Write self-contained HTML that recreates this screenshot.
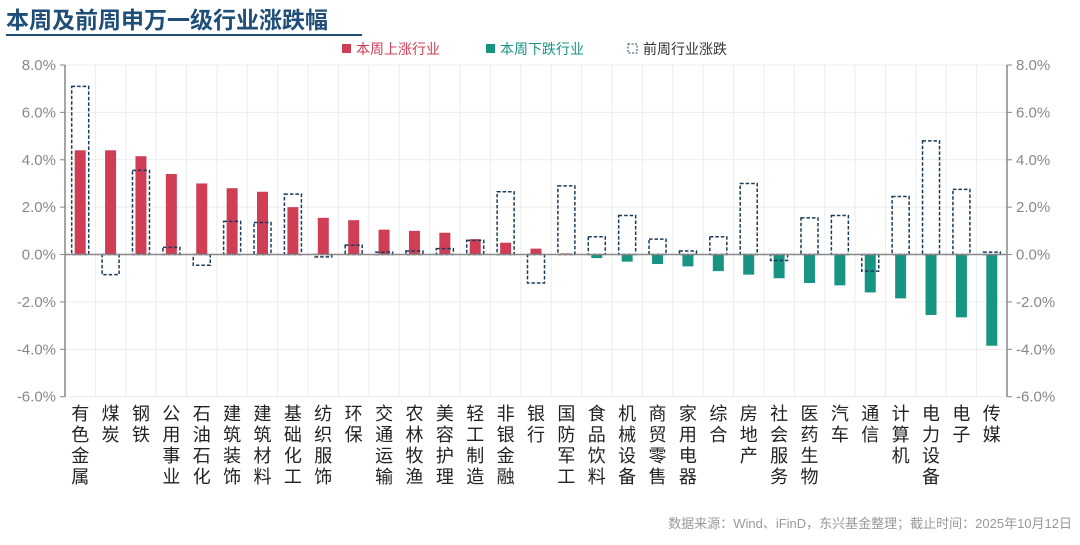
<!DOCTYPE html><html><head><meta charset="utf-8"><style>
body{margin:0;background:#fff;width:1080px;height:540px;overflow:hidden;font-family:"Liberation Sans","Noto Sans CJK SC",sans-serif}
</style></head><body>
<svg id="s" width="1080" height="540" xmlns="http://www.w3.org/2000/svg" font-family="Liberation Sans, Noto Sans CJK SC, sans-serif"></svg>
<script>
const cats=["有色金属","煤炭","钢铁","公用事业","石油石化","建筑装饰","建筑材料","基础化工","纺织服饰","环保","交通运输","农林牧渔","美容护理","轻工制造","非银金融","银行","国防军工","食品饮料","机械设备","商贸零售","家用电器","综合","房地产","社会服务","医药生物","汽车","通信","计算机","电力设备","电子","传媒"];
const cur=[4.4,4.4,4.15,3.4,3.0,2.8,2.65,2.0,1.55,1.45,1.05,1.0,0.92,0.65,0.5,0.25,0.05,-0.15,-0.3,-0.4,-0.5,-0.7,-0.85,-1.0,-1.2,-1.3,-1.6,-1.85,-2.55,-2.65,-3.85];
const prev=[7.1,-0.85,3.55,0.3,-0.45,1.4,1.35,2.55,-0.1,0.4,0.1,0.15,0.25,0.6,2.65,-1.2,2.9,0.75,1.65,0.65,0.15,0.75,3.0,-0.25,1.55,1.65,-0.7,2.45,4.8,2.75,0.1];
const L=65,R=1007,T=65,B=396.7,per=(B-T)/14;
const y=v=>T+(8-v)*per, w=(R-L)/31;
let h='<text x="6" y="28" font-size="23" font-weight="bold" fill="#1f4e79">本周及前周申万一级行业涨跌幅</text><line x1="6" y1="35" x2="362" y2="35" stroke="#1f4e79" stroke-width="2"/>';
h+='<rect x="342" y="44" width="9" height="9" fill="#cf3e55"/><text x="356" y="54" font-size="14" fill="#cf3e55">本周上涨行业</text>';
h+='<rect x="486" y="44" width="9" height="9" fill="#189482"/><text x="500" y="54" font-size="14" fill="#189482">本周下跌行业</text>';
h+='<rect x="628" y="44" width="9" height="9" fill="none" stroke="#1f3f5f" stroke-dasharray="2,1.5"/><text x="643" y="54" font-size="14" fill="#333">前周行业涨跌</text>';
for(let v=-6;v<=8;v+=2){const yy=y(v);h+=`<line x1="${L}" x2="${R}" y1="${yy}" y2="${yy}" stroke="#ececec"/>`;
h+=`<text x="56" y="${yy+5}" font-size="15" fill="#888" text-anchor="end">${v.toFixed(1)}%</text><text x="1016" y="${yy+5}" font-size="15" fill="#888">${v.toFixed(1)}%</text>`;
h+=`<line x1="${L-5}" x2="${L}" y1="${yy}" y2="${yy}" stroke="#888"/><line x1="${R}" x2="${R+5}" y1="${yy}" y2="${yy}" stroke="#888"/>`;}
for(let i=1;i<31;i++){const xx=L+i*w;h+=`<line x1="${xx}" x2="${xx}" y1="${T}" y2="${B}" stroke="#ececec"/>`;}
cats.forEach((c,i)=>{const cx=L+w*(i+0.5),v=cur[i],z=y(0),yy=y(v);
h+=`<rect x="${cx-5.5}" y="${Math.min(z,yy)}" width="11" height="${Math.max(Math.abs(yy-z),0.8)}" fill="${v>=0?'#cf3e55':'#189482'}"/>`;
const p=prev[i],py=y(p);h+=`<rect x="${cx-8.5}" y="${Math.min(z,py)}" width="17" height="${Math.abs(py-z)}" fill="none" stroke="#1a3a5a" stroke-width="1.5" stroke-dasharray="3.5,2"/>`;
[...c].forEach((ch,k)=>{h+=`<text x="${cx}" y="${420+k*21}" font-size="18" fill="#222" text-anchor="middle">${ch}</text>`;});});
h+=`<line x1="${L}" x2="${R}" y1="${y(0)}" y2="${y(0)}" stroke="#888" stroke-width="1.5"/>`;
h+=`<line x1="${L}" x2="${L}" y1="${T}" y2="${B}" stroke="#888" stroke-width="1.5"/><line x1="${R}" x2="${R}" y1="${T}" y2="${B}" stroke="#888" stroke-width="1.5"/>`;
h+='<text x="1072" y="528" font-size="13" fill="#999" text-anchor="end">数据来源：Wind、iFinD，东兴基金整理；截止时间：2025年10月12日</text>';
document.getElementById('s').innerHTML=h;
</script></body></html>
